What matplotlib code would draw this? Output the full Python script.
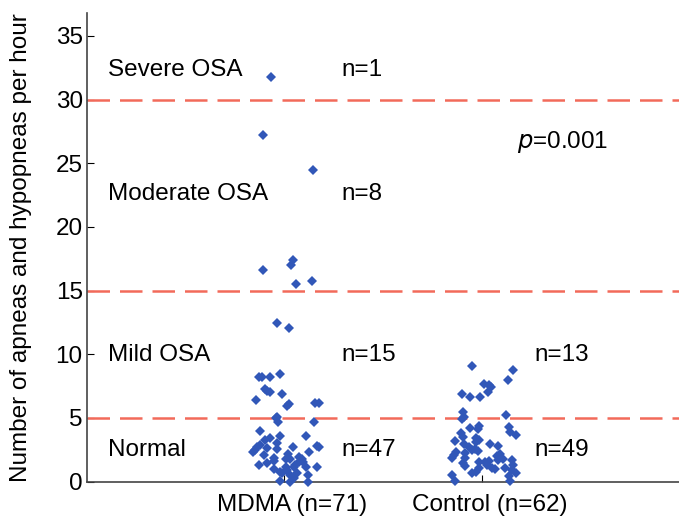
import matplotlib.pyplot as plt
import matplotlib.transforms as mtransforms
import numpy as np

plt.rcParams['font.family'] = ['Liberation Sans', 'DejaVu Sans']

groups = ['MDMA (n=71)', 'Control (n=62)']

# MDMA: apnea-hypopnea index and horizontal jitter (fraction of group spacing)
mdma_y = [31.8, 27.2, 24.5, 17.4, 17.0, 16.6, 15.5, 15.75,
          12.45, 12.1, 8.25, 8.25, 8.25, 8.47, 7.29, 7.15, 7.03, 6.42, 6.87,
          5.9, 6.08, 6.2, 6.2, 5.05,
          5.0, 4.72, 4.72, 3.97, 3.41, 3.6, 3.62, 2.88, 2.7, 2.49, 2.36, 2.62,
          3.02, 2.55, 2.7, 2.8, 2.7, 2.1, 1.84, 1.76, 1.76, 1.97, 1.76, 1.57,
          1.57, 2.36, 1.31, 1.45, 0.97, 1.13, 0.92, 1.31, 1.13, 1.18, 1.13,
          0.79, 0.66, 0.53, 0.66, 0.53, 0.08, 0.0, 0.0, 1.6, 2.2, 0.3, 3.3]
mdma_dx = [-0.067, -0.109, 0.147, 0.042, 0.034, -0.107, 0.059, 0.139,
           -0.037, 0.023, -0.129, -0.112, -0.074, -0.02, -0.099, -0.087, -0.074, -0.142, -0.012,
           0.013, 0.022, 0.156, 0.176, -0.037,
           -0.04, -0.034, 0.151, -0.124, -0.074, -0.02, 0.112, -0.121, -0.137, -0.146, -0.157, -0.087,
           -0.037, -0.037, 0.044, 0.167, 0.176, -0.103, -0.053, 0.007, 0.027, 0.077, 0.09, 0.097,
           0.074, 0.127, -0.129, -0.09, -0.053, 0.007, 0.013, 0.055, 0.047, 0.111, 0.167,
           -0.024, -0.012, 0.03, 0.064, 0.122, -0.024, 0.03, 0.122, -0.05, 0.02, 0.05, -0.1]

control_y = [9.1, 8.78, 8.0, 7.66, 7.55, 7.45, 7.0, 6.87, 6.64, 6.64, 5.5, 5.24, 5.05,
             4.93, 4.25, 4.4, 4.14, 4.32, 3.93, 3.67, 3.8, 3.54, 3.46, 3.28, 3.1,
             3.2, 2.94, 2.75, 2.49, 2.57, 2.94, 2.83, 2.41, 2.1, 1.89, 2.36, 2.23,
             1.84, 2.15, 2.04, 1.7, 1.31, 1.45, 1.26, 1.57, 1.53, 1.63, 1.31, 1.7,
             1.78, 1.05, 0.79, 0.66, 1.05, 1.0, 1.05, 0.92, 0.66, 0.47, 0.53, 0.05, 0.05]
control_dx = [-0.048, 0.161, 0.136, 0.01, 0.035, 0.048, 0.031, -0.098, -0.061, -0.006, -0.095, 0.124, -0.09,
              -0.102, -0.061, -0.015, -0.018, 0.139, 0.144, 0.172, -0.107, -0.095, -0.031, -0.015, -0.028,
              -0.134, -0.087, -0.062, -0.048, -0.035, 0.043, 0.085, -0.018, -0.14, -0.152, -0.132, -0.085,
              -0.082, 0.094, 0.077, 0.156, 0.161, -0.095, -0.085, -0.011, 0.018, 0.035, 0.027, 0.085,
              0.106, -0.015, -0.031, -0.048, 0.052, 0.069, 0.12, 0.156, 0.172, 0.139, -0.152, -0.136, 0.144]

cutoffs = [5, 15, 30]
severity = ['Normal', 'Mild OSA', 'Moderate OSA', 'Severe OSA']
severity_y = [2.5, 9.95, 22.6, 32.3]
mdma_counts = ['n=47', 'n=15', 'n=8', 'n=1']
control_counts = ['n=49', 'n=13', '', '']

fig = plt.figure(figsize=(6.79, 5.19), dpi=100)
ax = fig.add_axes([0.128, 0.072, 0.872, 0.903])

blue = '#3157b8'
ax.plot(1 + np.array(mdma_dx), mdma_y, 'D', color=blue, markersize=4.8,
        markeredgewidth=0, clip_on=False, zorder=3)
ax.plot(2 + np.array(control_dx), control_y, 'D', color=blue, markersize=4.8,
        markeredgewidth=0, clip_on=False, zorder=3)

for c in cutoffs:
    ax.axhline(c, color='#f26a5a', lw=1.8, dashes=(9, 4), zorder=2)

fs = 17.5
for lab, y, n1, n2 in zip(severity, severity_y, mdma_counts, control_counts):
    ax.text(0.105, y, lab, fontsize=fs, va='center', ha='left')
    ax.text(1.29, y, n1, fontsize=fs, va='center', ha='left')
    if n2:
        ax.text(2.27, y, n2, fontsize=fs, va='center', ha='left')
ax.text(2.18, 26.7, r'$p$=0.001', fontsize=fs, va='center', ha='left')

ax.set_xlim(0, 3)
ax.set_ylim(0, 36.8)
ax.set_xticks([1, 2])
ax.set_xticklabels(groups, fontsize=fs)
ax.set_yticks(np.arange(0, 36, 5))
ax.tick_params(axis='y', direction='in', length=5, labelsize=fs, pad=3)
ax.tick_params(axis='x', direction='in', length=5, labelsize=fs, pad=9)
shift = mtransforms.ScaledTranslation(8 / 100, 0, fig.dpi_scale_trans)
for t in ax.get_xticklabels():
    t.set_transform(t.get_transform() + shift)
ax.set_ylabel('Number of apneas and hypopneas per hour', fontsize=fs)
ax.yaxis.set_label_coords(-0.092, 0.5)

for s in ['top', 'right']:
    ax.spines[s].set_visible(False)
for s in ['left', 'bottom']:
    ax.spines[s].set_color('#444444')
    ax.spines[s].set_linewidth(1.2)

fig.savefig('out.png', dpi=100)
